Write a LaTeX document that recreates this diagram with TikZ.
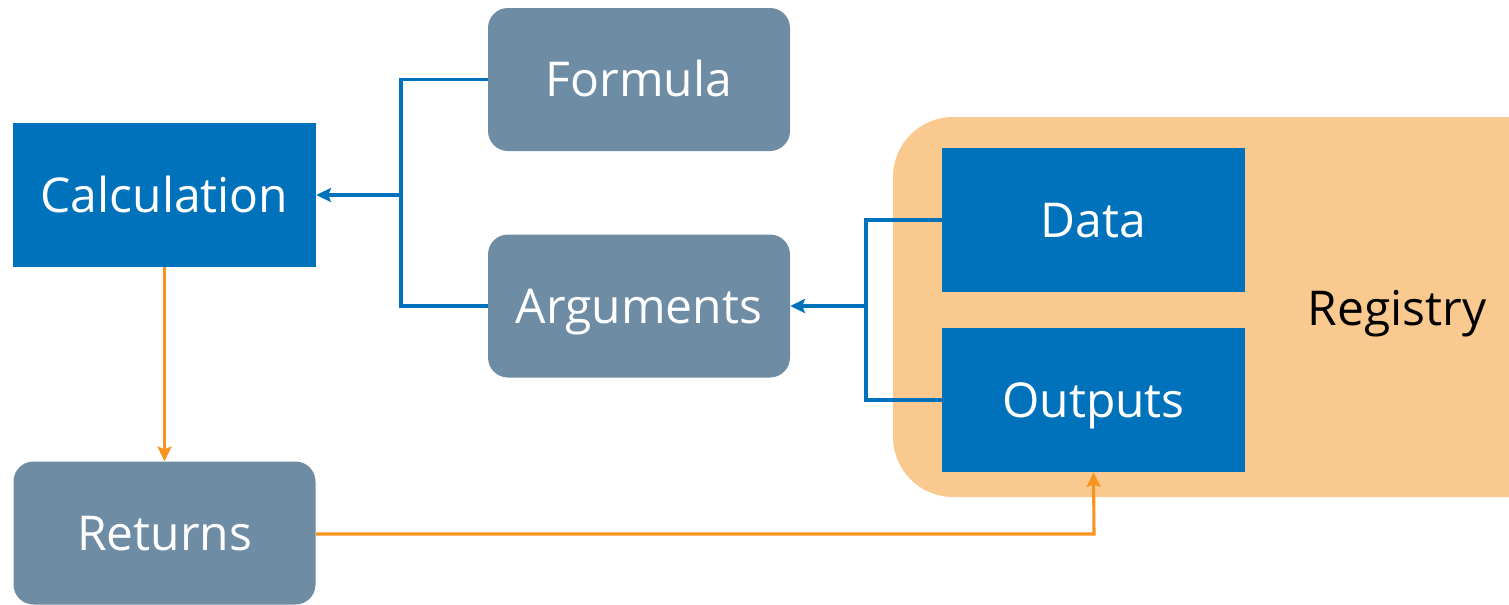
\documentclass[tikz,border=0pt]{standalone}
\usepackage{fontspec}
\setmainfont{Open Sans}
\usetikzlibrary{arrows.meta}
\newdimen\px \px=0.75pt
\definecolor{cblue}{HTML}{0072BC}
\definecolor{cslate}{HTML}{6F8CA5}
\definecolor{corfill}{HTML}{F9C98F}
\definecolor{corline}{HTML}{F7931E}
\tikzset{
  lbl/.style={font=\fontsize{36}{40}\selectfont, text height=26pt, text depth=0pt},
  bluebox/.style={lbl, fill=cblue, text=white, minimum width=303\px, minimum height=144\px, inner sep=0pt},
  slatebox/.style={lbl, fill=cslate, text=white, rounded corners=20\px, minimum width=302\px, minimum height=143\px, inner sep=0pt},
  blueline/.style={draw=cblue, line width=2.3pt},
  orline/.style={draw=corline, line width=2.3pt},
  tip/.style={-{Stealth[length=11pt,width=10.5pt,inset=2pt]}}
}
\begin{document}
\begin{tikzpicture}[x=0.75pt,y=-0.75pt]
\useasboundingbox (0,0) rectangle (1509,604);
\clip (0,0) rectangle (1509,604);
\node[fill=corfill, rounded corners=60\px, minimum width=677\px, minimum height=380\px, inner sep=0pt] (registry) at (1231.5,307) {};
\node[lbl, text=black, inner sep=0pt] (reglabel) at (1397,308) {Registry};
\node[slatebox] (formula) at (639,79.5) {Formula};
\node[bluebox] (calc) at (164.5,195) {Calculation};
\node[slatebox] (args) at (639,306) {Arguments};
\node[slatebox] (returns) at (164.5,533) {Returns};
\node[bluebox] (data) at (1093.5,220) {Data};
\node[bluebox] (outputs) at (1093.5,400) {Outputs};
\coordinate (j1) at (401,195);
\coordinate (j2) at (866,306);
\coordinate (j3) at (1094,534);
\draw[blueline] (formula.west) -| (j1) |- (args.west);
\draw[blueline, tip] (j1) -- (calc.east);
\draw[blueline] (data.west) -| (j2) |- (outputs.west);
\draw[blueline, tip] (j2) -- (args.east);
\draw[orline, tip] (calc.south) -- (returns.north);
\draw[orline, tip] (returns.east |- j3) -- (j3) -- (outputs.south);
\end{tikzpicture}
\end{document}
